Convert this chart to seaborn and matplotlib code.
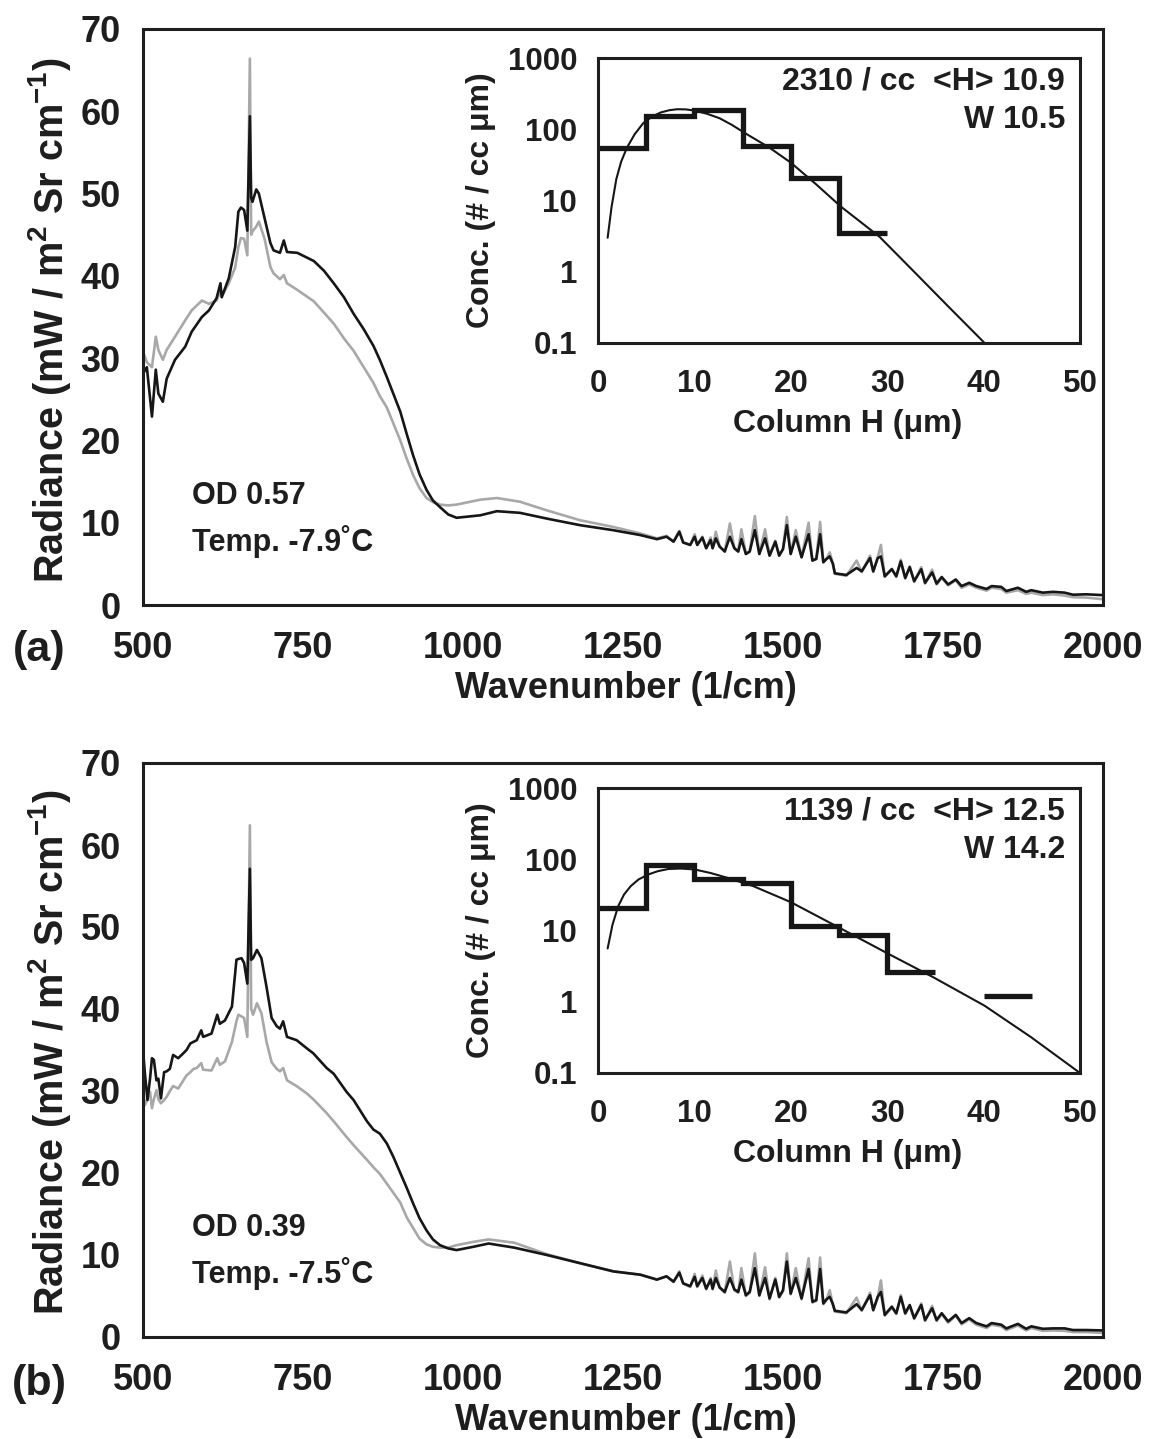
import numpy as np
import pandas as pd
import matplotlib
matplotlib.use("Agg")
import matplotlib.pyplot as plt
import seaborn as sns
from matplotlib.ticker import MultipleLocator, FixedLocator, LogLocator, FuncFormatter, NullFormatter

# ---------------- data: spectra ----------------
# panel (a), 500-1234 cm-1 part
wn_a_left = [500, 506, 514, 520, 524, 531, 537, 550, 566, 576,
             592, 603, 615, 621, 623, 634, 644, 649, 653, 658,
             663, 667, 669, 671, 677, 681, 690, 699, 704, 714,
             720, 725, 741, 767, 783, 798, 814, 829, 845, 860,
             870, 881, 891, 902, 912, 922, 932, 943, 953, 964,
             977, 990, 1027, 1053, 1089, 1131, 1183, 1234]
ice_a_left = [28.1, 28.9, 22.9, 28.6, 25.7, 24.7, 27.5, 29.8, 31.4, 33.2,
              35.0, 35.8, 37.3, 39.1, 37.4, 39.7, 43.5, 47.8, 48.3, 48.0,
              45.5, 59.4, 49.5, 49.0, 50.5, 50.0, 47.0, 44.0, 43.1, 42.8,
              44.3, 42.9, 42.8, 41.8, 40.6, 39.1, 37.4, 35.4, 33.5, 31.5,
              29.8, 27.7, 25.7, 23.5, 20.8, 18.2, 15.9, 14.0, 12.7, 11.9,
              11.0, 10.6, 10.9, 11.4, 11.2, 10.5, 9.7, 9.1]
clr_a_left = [30.8, 29.5, 28.9, 32.6, 31.0, 29.8, 31.0, 32.6, 34.6, 35.8,
              37.0, 36.6, 37.0, 38.2, 37.5, 39.1, 41.0, 43.5, 44.6, 44.5,
              42.5, 66.4, 45.0, 45.4, 46.0, 46.6, 44.5, 41.1, 40.3, 39.6,
              40.1, 39.1, 38.3, 36.9, 35.5, 34.2, 32.4, 30.9, 28.9, 27.0,
              25.4, 24.0, 22.1, 20.0, 17.8, 15.8, 14.2, 13.0, 12.5, 12.2,
              12.1, 12.2, 12.8, 13.0, 12.55, 11.5, 10.3, 9.5]

# panel (b), 500-1235 cm-1 part
wn_b_left = [500, 503, 507, 511, 514, 517, 521, 524, 528, 533,
             537, 542, 547, 555, 563, 568, 574, 579, 584, 591,
             594, 607, 616, 620, 628, 639, 646, 649, 654, 658,
             663, 667, 669, 672, 678, 685, 693, 701, 709, 714,
             719, 725, 740, 756, 766, 787, 798, 818, 829, 850,
             860, 870, 881, 891, 902, 912, 922, 932, 943, 953,
             964, 977, 990, 1016, 1040, 1080, 1131, 1183, 1235]
ice_b_left = [35.0, 32.1, 28.9, 31.5, 34.0, 33.8, 31.3, 31.5, 29.1, 32.3,
              32.4, 32.7, 34.4, 34.0, 34.6, 35.0, 35.8, 36.0, 36.2, 37.4,
              36.6, 37.0, 39.3, 38.2, 38.6, 40.3, 46.0, 46.1, 46.2, 45.6,
              43.1, 57.1, 46.0, 46.2, 47.2, 46.2, 42.7, 38.9, 37.9, 37.6,
              38.5, 36.6, 36.2, 35.2, 34.6, 32.8, 32.1, 29.9, 28.9, 26.3,
              25.3, 24.8, 23.6, 22.0, 20.0, 18.2, 16.3, 14.5, 13.0, 11.9,
              11.2, 10.8, 10.6, 11.0, 11.4, 10.9, 10.0, 9.0, 8.0]
clr_b_left = [29.9, 28.3, 29.0, 29.9, 27.9, 29.0, 30.1, 29.0, 28.5, 28.9,
              29.3, 30.0, 30.6, 30.3, 31.3, 31.9, 32.3, 32.7, 32.8, 33.4,
              32.6, 32.5, 34.0, 33.2, 33.6, 36.0, 38.5, 39.3, 39.1, 38.9,
              36.6, 62.4, 40.0, 39.3, 40.7, 39.5, 36.0, 33.5, 32.7, 32.4,
              32.8, 31.3, 30.6, 29.7, 29.0, 27.3, 26.3, 24.4, 23.4, 21.6,
              20.7, 19.9, 18.7, 17.6, 16.4, 14.6, 13.3, 12.0, 11.3, 11.0,
              10.9, 10.9, 11.2, 11.6, 11.9, 11.5, 10.1, 9.0, 8.0]

# water-vapour band region, shared wavenumbers for both panels
wn_band = [1277, 1303, 1318, 1329, 1338, 1344, 1355, 1362, 1366, 1374,
           1380, 1387, 1390, 1395, 1401, 1409, 1417, 1424, 1430, 1435,
           1442, 1448, 1456, 1463, 1472, 1479, 1488, 1494, 1500, 1506,
           1512, 1520, 1529, 1540, 1546, 1552, 1558, 1563, 1568, 1573,
           1578, 1581, 1599, 1615, 1623, 1636, 1641, 1648, 1653, 1659,
           1670, 1677, 1684, 1691, 1698, 1705, 1716, 1722, 1733, 1740,
           1748, 1758, 1770, 1779, 1791, 1802, 1818, 1826, 1841, 1849,
           1867, 1880, 1888, 1906, 1922, 1940, 1953, 1974, 2000]
ice_a_band = [8.5, 8.0, 8.3, 7.7, 8.9, 7.6, 7.3, 8.3, 7.3, 8.2,
              6.9, 7.9, 6.9, 8.1, 7.1, 6.5, 8.3, 6.9, 6.5, 8.0,
              6.2, 6.5, 9.1, 6.2, 8.1, 6.0, 7.7, 6.0, 6.8, 9.7,
              6.2, 8.3, 5.8, 8.6, 5.4, 5.6, 8.6, 5.2, 5.6, 5.9,
              5.0, 3.85, 3.65, 4.5, 4.1, 5.7, 4.1, 5.7, 5.9, 3.5,
              4.35, 3.5, 5.3, 3.3, 4.6, 2.9, 4.35, 2.7, 3.95, 2.6,
              3.4, 2.5, 3.1, 2.3, 2.7, 2.3, 1.95, 2.3, 2.2, 1.7,
              2.1, 1.6, 1.8, 1.5, 1.6, 1.5, 1.25, 1.3, 1.2]
clr_a_band = [8.7, 8.1, 8.4, 7.7, 9.0, 7.6, 7.3, 8.6, 7.3, 8.3,
              6.9, 8.2, 6.9, 8.9, 7.1, 6.5, 9.9, 6.9, 6.5, 9.2,
              6.2, 6.5, 10.8, 6.2, 9.2, 6.0, 7.8, 6.0, 6.8, 10.7,
              6.2, 9.1, 5.8, 10.0, 5.4, 5.6, 10.1, 5.2, 5.6, 6.4,
              5.0, 3.8, 3.55, 5.4, 4.0, 6.0, 4.0, 5.8, 7.3, 3.4,
              4.4, 3.4, 5.5, 3.2, 4.7, 2.8, 4.6, 2.6, 4.3, 2.5,
              3.3, 2.4, 3.0, 2.1, 2.5, 2.1, 1.75, 2.1, 1.95, 1.5,
              1.8, 1.35, 1.5, 1.2, 1.3, 1.15, 0.95, 0.9, 0.7]
ice_b_band = [7.6, 7.0, 7.4, 6.75, 7.85, 6.55, 6.2, 7.35, 6.2, 7.2,
              5.9, 7.0, 5.9, 7.2, 6.05, 5.5, 7.2, 5.8, 5.5, 7.0,
              5.1, 5.5, 8.4, 5.1, 7.2, 4.7, 7.0, 4.9, 5.7, 9.2,
              5.3, 7.2, 4.7, 8.3, 4.3, 4.5, 8.3, 4.1, 4.6, 4.9,
              4.0, 3.2, 3.0, 4.0, 3.3, 5.1, 3.3, 4.9, 5.5, 2.7,
              3.7, 2.9, 4.9, 2.9, 3.9, 2.3, 3.9, 2.07, 3.5, 2.07,
              2.9, 1.9, 2.7, 1.7, 2.3, 1.7, 1.3, 1.7, 1.5, 1.05,
              1.6, 1.0, 1.3, 1.0, 1.05, 1.05, 0.85, 0.85, 0.8]
clr_b_band = [7.6, 7.0, 7.4, 6.7, 8.0, 6.5, 6.1, 7.7, 6.1, 7.5,
              5.8, 7.2, 5.8, 8.1, 6.0, 5.4, 9.2, 5.7, 5.4, 8.4,
              5.0, 5.4, 10.2, 5.0, 8.5, 4.6, 7.2, 4.8, 5.6, 10.2,
              5.2, 8.4, 4.6, 9.6, 4.2, 4.4, 9.7, 4.0, 4.5, 5.7,
              3.9, 3.1, 2.9, 4.8, 3.2, 5.4, 3.2, 4.8, 6.9, 2.6,
              3.6, 2.8, 5.1, 2.8, 3.8, 2.2, 4.1, 1.95, 3.8, 1.95,
              2.8, 1.75, 2.6, 1.55, 2.15, 1.5, 1.1, 1.5, 1.3, 0.85,
              1.4, 0.8, 1.1, 0.75, 0.8, 0.75, 0.6, 0.6, 0.5]

# ---------------- data: size distributions (insets) ----------------
bin_edges_a = [0, 5, 10, 15, 20, 25]
conc_a = [55, 152, 185, 59, 20.5, 3.5]
fit_a_H = [1.0, 1.4, 1.9, 2.4, 3.0, 3.8, 4.7, 5.6, 6.5, 7.4, 8.2, 9.1, 10.0,
           11.3, 12.6, 13.9, 15.2, 16.5, 17.8, 20.0, 22.6, 25.2, 29.2, 32.7, 36.2, 40.1]
fit_a_C = [3.0, 8.0, 20, 35, 55, 85, 122, 150, 172, 185, 191, 190, 183,
           165, 143, 115, 89, 70, 55, 34, 17, 8.2, 3.1, 1.03, 0.34, 0.1]

bin_edges_b = [0, 5, 10, 15, 20, 25, 30, 35, 40]
conc_b = [20.8, 84, 52, 46, 11.6, 8.6, 2.6, np.nan, 1.21]
fit_b_H = [1.0, 1.5, 2.1, 2.7, 3.4, 4.2, 5.2, 6.2, 7.3, 8.6, 10.0, 11.7, 13.4,
           16.1, 20.0, 25.0, 30.0, 34.8, 40.1, 44.9, 50.0]
fit_b_C = [5.6, 12, 22, 32, 42, 52, 61, 68, 73, 74, 72, 64, 55,
           42, 25, 11, 4.8, 2.2, 0.88, 0.32, 0.1]

# ---------------- text ----------------
panel_labels = ["(a)", "(b)"]
od_texts = ["OD 0.57", "OD 0.39"]
temp_texts = ["Temp. -7.9˚C", "Temp. -7.5˚C"]
inset_line1 = ["2310 / cc  <H> 10.9", "1139 / cc  <H> 12.5"]
inset_line2 = ["W 10.5", "W 14.2"]
x_ticks_main = [500, 750, 1000, 1250, 1500, 1750, 2000]

# ---------------- style ----------------
sns.set_style("white")
plt.rcParams['font.family'] = ['Liberation Sans', 'DejaVu Sans']
plt.rcParams['font.weight'] = 'bold'
plt.rcParams['mathtext.default'] = 'regular'
plt.rcParams['axes.labelweight'] = 'bold'

TXT = '#1e1e1e'
GRAY = '#a8a8a8'
BLACK = '#161616'

W, H = 1149, 1439
fig = plt.figure(figsize=(W / 100, H / 100), dpi=100)


def px_rect(left, top, right, bottom):
    return [left / W, 1 - bottom / H, (right - left) / W, (bottom - top) / H]


def main_panel(rect, wn_left, ice_left, clr_left, ice_band, clr_band, idx, ylab_y):
    ax = fig.add_axes(rect)
    wn = list(wn_left) + list(wn_band)
    ice = list(ice_left) + list(ice_band)
    clr = list(clr_left) + list(clr_band)
    df = pd.DataFrame({
        'wn': wn + wn,
        'rad': clr + ice,
        'kind': ['clear'] * len(wn) + ['ice'] * len(wn),
    })
    sns.lineplot(data=df, x='wn', y='rad', hue='kind', hue_order=['clear', 'ice'],
                 palette={'clear': GRAY, 'ice': BLACK}, estimator=None, sort=False,
                 legend=False, linewidth=1.9, ax=ax)
    ax.set_xlim(500, 2000)
    ax.set_ylim(0, 70)
    ax.xaxis.set_major_locator(FixedLocator(x_ticks_main))
    ax.xaxis.set_minor_locator(MultipleLocator(50))
    ax.yaxis.set_major_locator(MultipleLocator(10))
    ax.yaxis.set_minor_locator(MultipleLocator(2))
    ax.tick_params(which='both', direction='in', top=False, right=False,
                   color=TXT, labelcolor=TXT)
    ax.tick_params(which='major', length=12, width=1.4, labelsize=26)
    ax.tick_params(which='minor', length=6, width=1.2)
    ax.tick_params(axis='x', which='major', pad=19)
    ax.tick_params(axis='y', which='major', pad=16)
    for s in ax.spines.values():
        s.set_linewidth(2.2)
        s.set_color(TXT)
    ax.set_xlabel("Wavenumber (1/cm)", fontsize=26, fontweight='bold', color=TXT)
    ax.xaxis.set_label_coords(0.503, -0.145)
    ax.xaxis.label.set_verticalalignment('center')
    ax.set_ylabel("Radiance (mW / m$^{2}$ Sr cm$^{-1}$)", fontsize=28.5,
                  fontweight='bold', color=TXT)
    ax.yaxis.set_label_coords(-0.097, ylab_y)
    ax.yaxis.label.set_verticalalignment('center')
    ax.text(0.051, 0.19, od_texts[idx], transform=ax.transAxes, fontsize=22,
            fontweight='bold', color=TXT, va='center', ha='left')
    ax.text(0.051, 0.11, temp_texts[idx], transform=ax.transAxes, fontsize=22,
            fontweight='bold', color=TXT, va='center', ha='left')
    return ax


def inset_panel(rect, edges, conc, fit_H, fit_C, idx):
    ax = fig.add_axes(rect)
    ax.set_facecolor('white')
    # fitted curve
    sns.lineplot(x=fit_H, y=fit_C, color=BLACK, linewidth=1.5, estimator=None,
                 sort=False, ax=ax)
    # histogram as connected steps, broken where a bin is empty
    runs, cur = [], []
    for e, c in zip(edges, conc):
        if c is None or (isinstance(c, float) and np.isnan(c)):
            if cur:
                runs.append(cur)
            cur = []
        else:
            cur.append((e, c))
    if cur:
        runs.append(cur)
    width = edges[1] - edges[0]
    for run in runs:
        xs, ys = [], []
        for e, c in run:
            xs += [e, e + width]
            ys += [c, c]
        sns.lineplot(x=xs, y=ys, color=BLACK, linewidth=3.8, estimator=None,
                     sort=False, ax=ax)
    for ln in ax.lines[1:]:
        ln.set_solid_joinstyle('miter')
        ln.set_solid_capstyle('butt')
    ax.set_yscale('log')
    ax.set_xlim(0, 50)
    ax.set_ylim(0.1, 1000)
    ax.xaxis.set_major_locator(MultipleLocator(10))
    ax.xaxis.set_minor_locator(MultipleLocator(2))
    ax.yaxis.set_major_locator(FixedLocator([0.1, 1, 10, 100, 1000]))
    ax.yaxis.set_major_formatter(FuncFormatter(lambda v, p: f"{v:g}"))
    ax.yaxis.set_minor_locator(LogLocator(base=10, subs=np.arange(2, 10)))
    ax.yaxis.set_minor_formatter(NullFormatter())
    ax.tick_params(which='both', direction='in', top=False, right=False,
                   color=TXT, labelcolor=TXT)
    ax.tick_params(which='major', length=11, width=1.2, labelsize=22.5)
    ax.tick_params(which='minor', length=6, width=1.0)
    ax.tick_params(axis='x', which='major', pad=19)
    ax.tick_params(axis='y', which='major', pad=15)
    for s in ax.spines.values():
        s.set_linewidth(2.2)
        s.set_color(TXT)
    ax.set_xlabel("Column H (μm)", fontsize=23, fontweight='bold', color=TXT)
    ax.xaxis.set_label_coords(0.517, -0.284)
    ax.xaxis.label.set_verticalalignment('center')
    ax.set_ylabel("Conc. (# / cc μm)", fontsize=23, fontweight='bold', color=TXT)
    ax.yaxis.set_label_coords(-0.243, 0.5)
    ax.yaxis.label.set_verticalalignment('center')
    ax.text(0.969, 0.917, inset_line1[idx], transform=ax.transAxes, fontsize=23,
            fontweight='bold', color=TXT, ha='right', va='center')
    ax.text(0.969, 0.782, inset_line2[idx], transform=ax.transAxes, fontsize=23,
            fontweight='bold', color=TXT, ha='right', va='center')
    return ax


main_panel(px_rect(143, 29, 1103, 605), wn_a_left, ice_a_left, clr_a_left,
           ice_a_band, clr_a_band, 0, 0.495)
inset_panel(px_rect(598, 58, 1080, 343), bin_edges_a, conc_a, fit_a_H, fit_a_C, 0)

main_panel(px_rect(143, 763, 1103, 1337), wn_b_left, ice_b_left, clr_b_left,
           ice_b_band, clr_b_band, 1, 0.497)
inset_panel(px_rect(598, 788, 1080, 1073), bin_edges_b, conc_b, fit_b_H, fit_b_C, 1)

fig.text(39 / W, 1 - 650 / H, panel_labels[0], fontsize=31, fontweight='bold',
         color=TXT, ha='center', va='center')
fig.text(39 / W, 1 - 1384 / H, panel_labels[1], fontsize=31, fontweight='bold',
         color=TXT, ha='center', va='center')

fig.savefig("out.png", dpi=100, facecolor='white')
